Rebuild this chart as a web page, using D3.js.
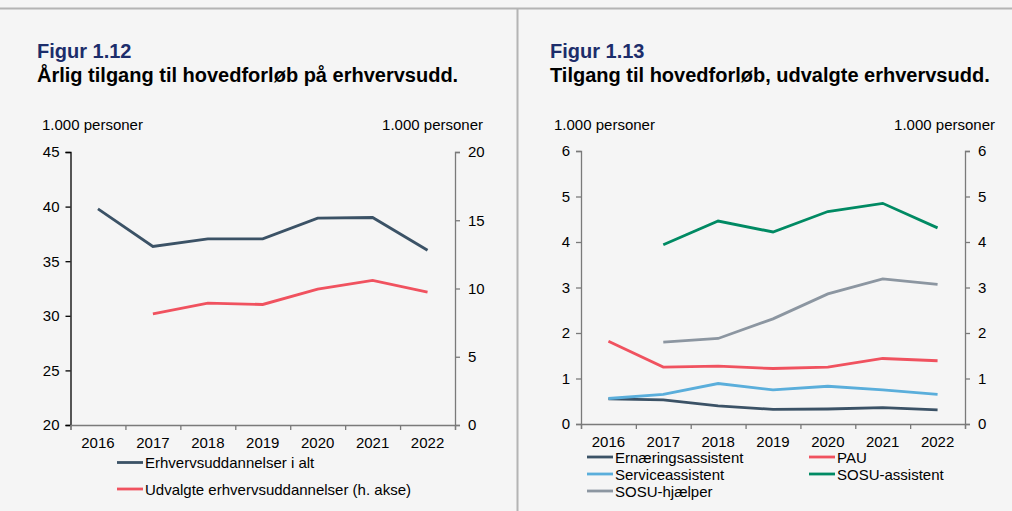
<!DOCTYPE html>
<html>
<head>
<meta charset="utf-8">
<script src="https://cdn.jsdelivr.net/npm/d3@7"></script>
<style>
  body { margin: 0; background: #f5f5f5; }
  svg { display: block; font-family: "Liberation Sans", Arial, sans-serif; }
</style>
</head>
<body>
<svg id="chart" width="1012" height="511"></svg>
<script>
// data
var years = ["2016", "2017", "2018", "2019", "2020", "2021", "2022"];

// Figur 1.12
var erhvervsAlt = [39.8, 36.35, 37.05, 37.05, 38.95, 39.0, 36.0];
var udvalgte = [null, 8.15, 8.93, 8.83, 9.96, 10.59, 9.74];
var leftTicks112 = [20, 25, 30, 35, 40, 45];
var rightTicks112 = [0, 5, 10, 15, 20];

// Figur 1.13
var ernaering = [0.55, 0.53, 0.40, 0.32, 0.33, 0.36, 0.31];
var pau = [1.82, 1.25, 1.27, 1.22, 1.25, 1.44, 1.39];
var service = [0.56, 0.65, 0.89, 0.75, 0.83, 0.75, 0.65];
var sosuAssistent = [null, 3.94, 4.46, 4.22, 4.67, 4.85, 4.31];
var sosuHjaelper = [null, 1.80, 1.88, 2.31, 2.86, 3.19, 3.07];
var ticks113 = [0, 1, 2, 3, 4, 5, 6];

var svg = d3.select("#chart");

// frame lines
svg.append("line").attr("x1", 0).attr("x2", 1012).attr("y1", 8.5).attr("y2", 8.5)
  .attr("stroke", "#b4b4b4").attr("stroke-width", 2);
svg.append("line").attr("x1", 517.5).attr("x2", 517.5).attr("y1", 8).attr("y2", 511)
  .attr("stroke", "#b4b4b4").attr("stroke-width", 2);

function drawPanel(opt) {
  var g = svg.append("g");
  var x0 = opt.left, x1 = opt.right, yTop = opt.top, yBot = opt.bottom;

  g.append("text").attr("x", opt.titleX).attr("y", 58)
    .attr("font-size", 20).attr("font-weight", "bold").attr("fill", "#1c2d6b")
    .text(opt.fig);
  g.append("text").attr("x", opt.titleX).attr("y", 82)
    .attr("font-size", 20).attr("font-weight", "bold").attr("fill", "#000")
    .text(opt.title);
  g.append("text").attr("x", opt.unitLeft).attr("y", 130)
    .attr("font-size", 15).text("1.000 personer");
  g.append("text").attr("x", opt.unitRight).attr("y", 130)
    .attr("font-size", 15).attr("text-anchor", "end").text("1.000 personer");

  var x = d3.scaleBand().domain(years).range([x0, x1]);
  var xb = d3.scaleLinear().domain([0, years.length]).range([x0, x1]);
  var yL = d3.scaleLinear().domain(opt.leftDomain).range([yBot, yTop]);
  var yR = d3.scaleLinear().domain(opt.rightDomain).range([yBot, yTop]);
  var fmt = d3.format("d");

  var axL = g.append("g").attr("transform", "translate(" + x0 + ",0)")
    .call(d3.axisLeft(yL).tickValues(opt.leftTicks).tickFormat(fmt).tickSize(5).tickPadding(6));
  axL.selectAll("path,line").attr("stroke", opt.leftAxisColor).attr("stroke-width", 1.3);

  var axR = g.append("g").attr("transform", "translate(" + x1 + ",0)")
    .call(d3.axisRight(yR).tickValues(opt.rightTicks).tickFormat(fmt).tickSize(5).tickPadding(8));
  axR.selectAll("path,line").attr("stroke", "#7a7a7a").attr("stroke-width", 1.3);

  // boundary ticks
  var axB = g.append("g").attr("transform", "translate(0," + yBot + ")")
    .call(d3.axisBottom(xb).ticks(years.length).tickSize(5).tickFormat(""));
  axB.selectAll("path,line").attr("stroke", "#7a7a7a").attr("stroke-width", 1.3);

  var axLab = g.append("g").attr("transform", "translate(0," + yBot + ")")
    .call(d3.axisBottom(x).tickSize(0).tickPadding(12));
  axLab.select(".domain").remove();

  g.selectAll(".tick text").attr("font-size", 15).attr("fill", "#000")
    .attr("font-family", "Liberation Sans, Arial, sans-serif");

  opt.series.forEach(function(s) {
    var ys = s.axis === "right" ? yR : yL;
    var line = d3.line()
      .defined(function(d) { return d != null; })
      .x(function(d, i) { return x(years[i]) + x.bandwidth() / 2; })
      .y(function(d) { return ys(d); });
    g.append("path").datum(s.values).attr("d", line)
      .attr("fill", "none").attr("stroke", s.color).attr("stroke-width", 2.8);
  });

  opt.legend.forEach(function(l) {
    g.append("line").attr("x1", l.x).attr("x2", l.x + 26).attr("y1", l.y).attr("y2", l.y)
      .attr("stroke", l.color).attr("stroke-width", 2.8);
    g.append("text").attr("x", l.x + 28).attr("y", l.y + 5.5)
      .attr("font-size", 15).text(l.name);
  });
}

var cDark = "#3b5266", cRed = "#f0525f", cBlue = "#5aaedb", cGreen = "#008a63", cGray = "#8c96a1";

drawPanel({
  fig: "Figur 1.12",
  title: "Årlig tilgang til hovedforløb på erhvervsudd.",
  titleX: 37, unitLeft: 42, unitRight: 483,
  left: 70.5, right: 455, top: 152, bottom: 425,
  leftDomain: [20, 45], rightDomain: [0, 20],
  leftTicks: leftTicks112, rightTicks: rightTicks112,
  leftAxisColor: "#000",
  series: [
    { values: erhvervsAlt, color: cDark, axis: "left" },
    { values: udvalgte, color: cRed, axis: "right" }
  ],
  legend: [
    { name: "Erhvervsuddannelser i alt", color: cDark, x: 117, y: 462.5 },
    { name: "Udvalgte erhvervsuddannelser (h. akse)", color: cRed, x: 117, y: 489 }
  ]
});

drawPanel({
  fig: "Figur 1.13",
  title: "Tilgang til hovedforløb, udvalgte erhvervsudd.",
  titleX: 550, unitLeft: 554, unitRight: 995,
  left: 581, right: 965, top: 151, bottom: 424,
  leftDomain: [0, 6], rightDomain: [0, 6],
  leftTicks: ticks113, rightTicks: ticks113,
  leftAxisColor: "#7a7a7a",
  series: [
    { values: sosuHjaelper, color: cGray },
    { values: ernaering, color: cDark },
    { values: service, color: cBlue },
    { values: pau, color: cRed },
    { values: sosuAssistent, color: cGreen }
  ],
  legend: [
    { name: "Ernæringsassistent", color: cDark, x: 587, y: 457 },
    { name: "PAU", color: cRed, x: 809, y: 457 },
    { name: "Serviceassistent", color: cBlue, x: 587, y: 474 },
    { name: "SOSU-assistent", color: cGreen, x: 809, y: 474 },
    { name: "SOSU-hjælper", color: cGray, x: 587, y: 491 }
  ]
});
</script>
</body>
</html>
